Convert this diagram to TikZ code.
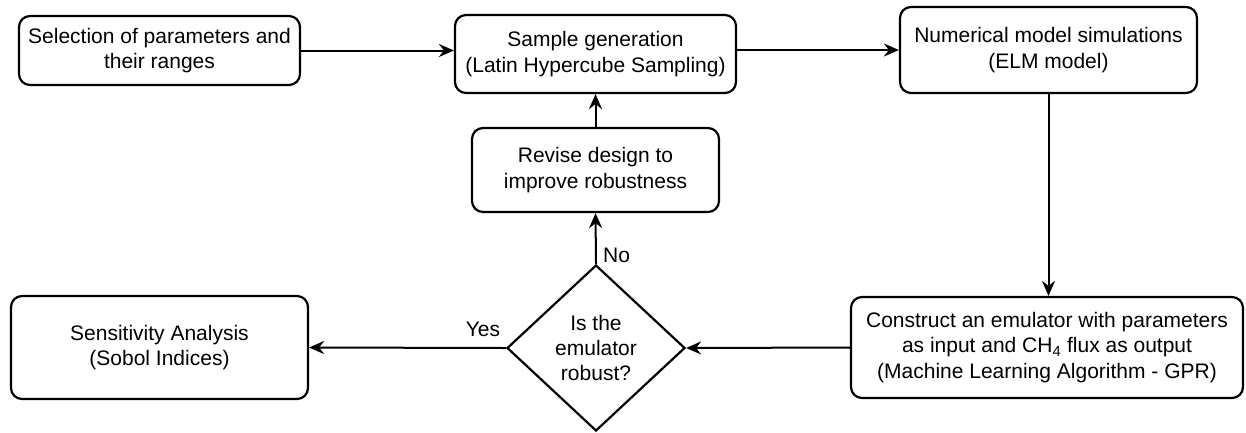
\documentclass[tikz,border=0pt]{standalone}
\usepackage{fontspec}
\setmainfont{Liberation Sans}
\usetikzlibrary{arrows.meta,shapes.geometric,calc}
\begin{document}
\begin{tikzpicture}[x=1pt,y=-1pt,
  txt/.style={font=\fontsize{21}{25.2}\selectfont},
  box/.style={txt, draw, line width=2.2pt, rounded corners=11pt, align=center, inner sep=0pt, fill=white},
  decision/.style={txt, draw, diamond, line width=2.2pt, align=center, inner sep=0pt, fill=white},
  arr/.style={line width=2pt, -{Stealth[length=15pt,width=13pt,inset=5pt]}}]
\path[use as bounding box] (0,0) rectangle (1246,432);

\node[box, minimum width=281pt, minimum height=69pt] (b1) at (159.5,50.5) {Selection of parameters and\\their ranges};
\node[box, minimum width=281pt, minimum height=78pt] (b2) at (595.5,54) {Sample generation\\(Latin Hypercube Sampling)};
\node[box, minimum width=297pt, minimum height=86pt] (b3) at (1048.5,50) {Numerical model simulations\\(ELM model)};
\node[box, minimum width=247pt, minimum height=84pt] (rev) at (595.5,170) {Revise design to\\improve robustness};
\node[decision, minimum width=178pt, minimum height=166pt] (dia) at (596,348) {Is the\\emulator\\robust?};
\node[box, minimum width=297pt, minimum height=103pt] (b4) at (159.5,347.5) {Sensitivity Analysis\\(Sobol Indices)};
\node[box, minimum width=392pt, minimum height=101pt] (b5) at (1047,347.5) {Construct an emulator with parameters\\as input and CH\textsubscript{4} flux as output\\(Machine Learning Algorithm - GPR)};

\draw[arr] (b1.east) -- (b1.east -| b2.west);
\draw[arr] ($(b2.east)+(0,-4)$) -- (b3.west);
\draw[arr] (b3.south) -- (b3.south |- b5.north);
\draw[arr] (b5.west) -- (dia.east);
\draw[arr] (dia.west) -- (b4.east);
\draw[arr] (dia.north) -- (rev.south);
\draw[arr] (rev.north) -- (b2.south);

\node[txt] (yes) at (483,329) {Yes};
\node[txt, anchor=west, inner sep=0pt] (no) at (603,255) {No};
\end{tikzpicture}
\end{document}
